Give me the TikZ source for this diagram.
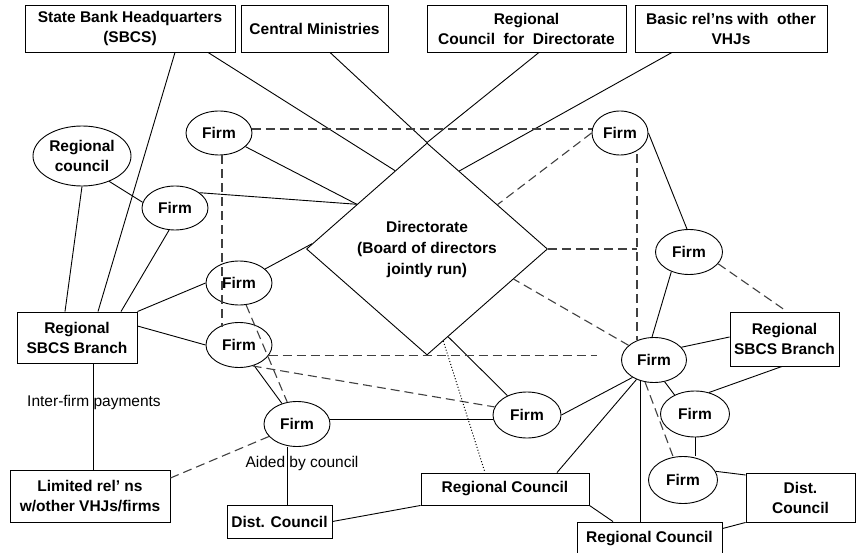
\documentclass[tikz,border=0pt]{standalone}
\usepackage{fontspec}
\setmainfont{Liberation Sans}
\usetikzlibrary{shapes.geometric,calc}
\begin{document}
\begin{tikzpicture}[x=1pt,y=-1pt,
  txt/.style={font=\bfseries\fontsize{15.5}{20}\selectfont},
  box/.style={draw, rectangle, inner sep=0pt, align=center, txt, line width=0.9pt},
  firm/.style={draw, ellipse, inner sep=0pt, align=center, txt, line width=0.9pt},
  conn/.style={line width=0.9pt},
  dconn/.style={line width=1.1pt, black!75, dash pattern=on 9pt off 5pt},
  dotconn/.style={line width=1pt, dash pattern=on 1pt off 2pt},
  lbl/.style={font=\fontsize{15.5}{20}\selectfont, inner sep=0pt}]
\clip (0,0) rectangle (856,553);
% top boxes
\node[box, minimum width=210pt, minimum height=47pt] (sbhq) at (130,28.5) {State Bank Headquarters\\(SBCS)};
\node[box, minimum width=147pt, minimum height=47pt] (cm) at (314.5,28.5) {Central Ministries};
\node[box, minimum width=199pt, minimum height=47pt] (rcd) at (526.5,28.5) {Regional\\Council\ \ for\ \ Directorate};
\node[box, minimum width=192pt, minimum height=47pt] (brv) at (731,28.5) {Basic rel’ns with\ \ other\\VHJs};
% diamond
\node[draw, diamond, minimum width=241pt, minimum height=212pt, inner sep=0pt, align=center,
      font=\bfseries\fontsize{15.5}{21}\selectfont, line width=0.9pt] (dia) at (427,249)
      {Directorate\\(Board of directors\\jointly run)};
% ellipses
\node[firm, minimum width=98pt, minimum height=60pt] (RCe) at (82,156) {Regional\\council};
\node[firm, minimum width=66pt, minimum height=44pt] (F1) at (219,133) {Firm};
\node[firm, minimum width=56pt, minimum height=44pt] (F2) at (620,133) {Firm};
\node[firm, minimum width=66pt, minimum height=44pt] (F3) at (175,208) {Firm};
\node[firm, minimum width=66pt, minimum height=44pt] (F4) at (239,283) {Firm};
\node[firm, minimum width=66pt, minimum height=45pt] (F5) at (239,345) {Firm};
\node[firm, minimum width=66pt, minimum height=45pt] (F6) at (297,424) {Firm};
\node[firm, minimum width=68pt, minimum height=46pt] (F7) at (527,415) {Firm};
\node[firm, minimum width=65pt, minimum height=45pt] (F8) at (654,360) {Firm};
\node[firm, minimum width=67pt, minimum height=45pt] (F9) at (689,252) {Firm};
\node[firm, minimum width=69pt, minimum height=46pt] (F10) at (695,414) {Firm};
\node[firm, minimum width=69pt, minimum height=47pt] (F11) at (683,480) {Firm};
% other boxes
\node[box, minimum width=120pt, minimum height=51pt] (sbl) at (77,337.5) {Regional\\SBCS Branch};
\node[box, minimum width=109pt, minimum height=54pt] (sbr) at (784.5,339) {Regional\\SBCS Branch};
\node[box, minimum width=160pt, minimum height=52pt] (lim) at (90,496) {Limited rel’ ns\\w/other VHJs/firms};
\node[box, minimum width=105pt, minimum height=33pt] (dcl) at (279.5,521.5) {Dist. Council};
\node[box, minimum width=168pt, minimum height=32pt] (rcc) at (505,489) {Regional Council};
\node[box, minimum width=145pt, minimum height=34pt] (rcb) at (649.5,539) {Regional Council};
\node[box, minimum width=109pt, minimum height=49pt] (dcr) at (800.5,497.5) {Dist.\\Council};
% labels
\node[lbl] (lab1) at (94,402) {Inter-firm payments};
\node[lbl] (lab2) at (302,463) {Aided by council};
% points on diamond edges
\coordinate (dUL1) at ($(dia.west)!0.736!(dia.north)$);
\coordinate (dUL2) at ($(dia.west)!0.42!(dia.north)$);
\coordinate (dUL3) at ($(dia.west)!0.05!(dia.north)$);
\coordinate (dUR1) at ($(dia.north)!0.267!(dia.east)$);
\coordinate (dUR2) at ($(dia.north)!0.583!(dia.east)$);
\coordinate (dLR1) at ($(dia.east)!0.283!(dia.south)$);
\coordinate (dLR2) at ($(dia.east)!0.825!(dia.south)$);
\coordinate (dLR3) at ($(dia.east)!0.865!(dia.south)$);
\coordinate (vx) at ($(F2.south)+(17,0)$);
\coordinate (dE) at (597,356);
\coordinate (dclx) at ($(dcl.north)+(8,0)$);
% solid connectors
\draw[conn] ($(sbhq.south)+(45,0)$) -- ($(sbl.north)+(21,0)$);
\draw[conn] ($(sbhq.south)+(78,0)$) -- (dUL1);
\draw[conn] ($(cm.south)+(15.5,0)$) -- (dia.north);
\draw[conn] ($(rcd.south)+(12.5,0)$) -- (dia.north);
\draw[conn] ($(brv.south)+(-59,0)$) -- (dUR1);
\draw[conn] (F1) -- (dUL2);
\draw[conn] (F3.32) -- (dUL2);
\draw[conn] (RCe.-43) -- (F3.170);
\draw[conn] (RCe.south) -- ($(sbl.north)+(-12,0)$);
\draw[conn] (F3.255) -- ($(sbl.north)+(44,0)$);
\draw[conn] (F4) -- (dUL3);
\draw[conn] (F4.west) -- (sbl.north east);
\draw[conn] (F5.west) -- ($(sbl.east)+(0,-11.5)$);
\draw[conn] (F7) -- (dLR2);
\draw[conn] (F6.8) -- (F6.8 -| F7.west);
\draw[conn] (F7.east) -- (F8.219);
\draw[conn] (F8.228) -- ($(rcc.north)+(52,0)$);
\draw[conn] (F8.236) -- (F8.236 |- rcb.north);
\draw[conn] (F8.95) -- (F9.228);
\draw[conn] (F9.95) -- (F2.east);
\draw[conn] (F8.25) -- ($(sbr.west)+(0,-2)$);
\draw[conn] ($(sbr.south)+(-2.5,0)$) -- (F10.57);
\draw[conn] (F10.south) -- (F10.south |- F11.north);
\draw[conn] (F11.15) -- ($(dcr.west)+(0,-22.5)$);
\draw[conn] (dcr.south west) -- ($(rcb.north east)+(0,7)$);
\draw[conn] (rcc.south east) -- ($(rcb.north)+(-36.5,0)$);
\draw[conn] ($(lim.east)+(0,-8)$) -- ($(lim.east)+(0,-8)$ -| rcc.west);
\draw[conn] (dcl.east) -- (rcc.south west);
\draw[conn] (dclx) -- (dclx |- F6.south);
\draw[conn] ($(sbl.south)+(16,0)$) -- ($(lim.north)+(3,0)$);
\draw[conn] (F5) -- (F6);
\draw[conn] (F8.-64) -- (F10.137);
% dashed connectors
\draw[dconn] (F1.7) -- (F1.7 -| F2.west);
\draw[dconn] ($(F1.south)+(3,0)$) -- ($(F5.north)+(-17,5)$);
\draw[dconn] (F2.west) -- (dUR2);
\draw[dconn] ($(vx)+(0,-1)$) -- ($(F8.north)+(-17,3)$);
\draw[dconn] (dia.east) -- (dia.east -| vx);
\draw[dconn] (F8) -- (dLR1);
\draw[dconn] (F5.-20) -- (F5.-20 -| dE);
\draw[dconn] (F5.-57) -- (F7.166);
\draw[dconn] (F4.-72) -- (F6.114);
\draw[dconn] (F6.204) -- ($(lim.east)+(0,-18)$);
\draw[dconn] (F9.-22) -- ($(sbr.north)+(2.5,0)$);
\draw[dconn] (F8.248) -- (F11.113);
% dotted connector
\draw[dotconn] (dLR3) -- ($(rcc.north)+(-20,0)$);
\end{tikzpicture}
\end{document}
